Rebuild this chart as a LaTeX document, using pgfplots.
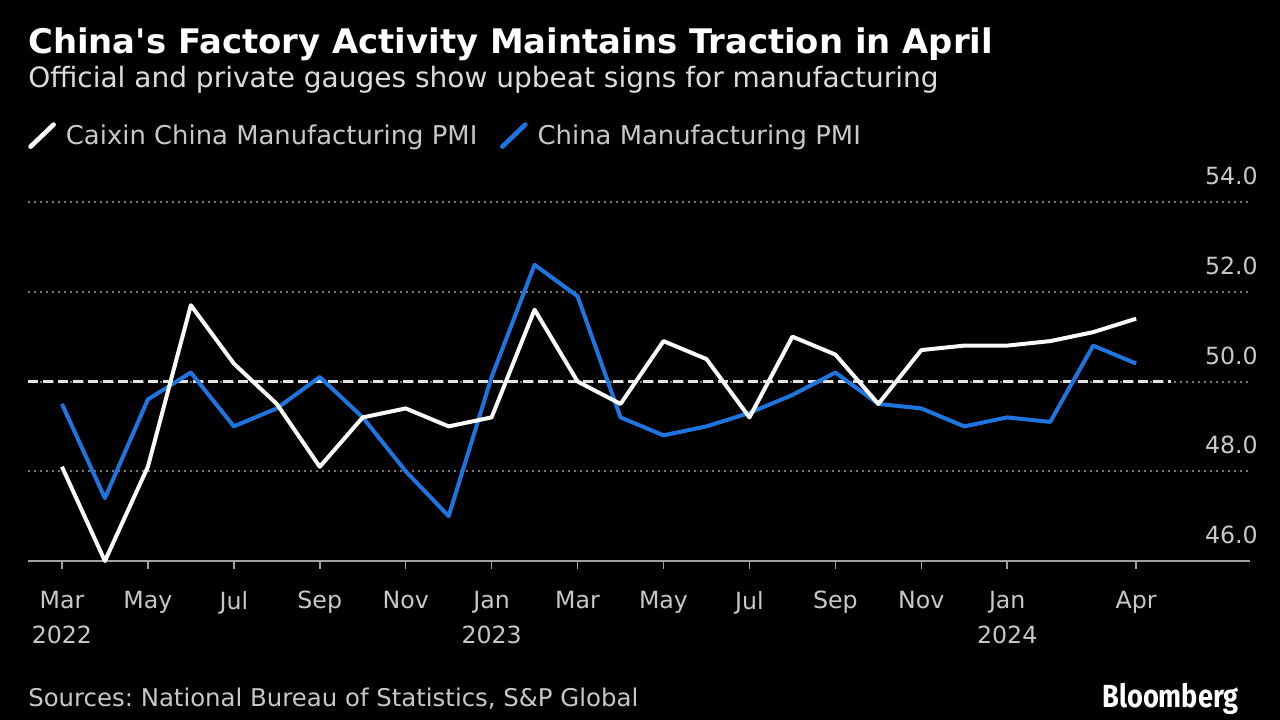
\documentclass[border=0pt]{standalone}
\usepackage{pgfplots}
\pgfplotsset{compat=1.18}
\usepackage{fontspec}
\setmainfont{DejaVu Sans}
\newfontfamily\djv{DejaVu Sans}
\newfontfamily\bbg{Fira Sans}[FakeStretch=0.85]
\definecolor{pmiblue}{RGB}{31,117,224}
\definecolor{linewhite}{RGB}{250,250,250}
\definecolor{gridgray}{RGB}{120,120,120}
\definecolor{axisgray}{RGB}{160,160,160}
\definecolor{ticktext}{RGB}{200,200,200}
\definecolor{subtext}{RGB}{220,220,220}
\definecolor{dashcol}{RGB}{225,225,225}
\frenchspacing
\begin{document}
\begin{tikzpicture}
\useasboundingbox (0,0) rectangle (960pt,540pt);
\fill[black] (0,0) rectangle (960pt,540pt);
\node[anchor=base west, inner sep=0pt, text=white, font=\djv\fontsize{25.4}{30}\selectfont\bfseries] at (21pt,500pt) {China's Factory Activity Maintains Traction in April};
\node[anchor=base west, inner sep=0pt, text=subtext, font=\djv\fontsize{21}{26}\selectfont] at (21pt,474pt) {Official and private gauges show upbeat signs for manufacturing};
\node[anchor=base west, inner sep=0pt, text=ticktext, font=\djv\fontsize{18.3}{22}\selectfont] at (21pt,9.75pt) {Sources: National Bureau of Statistics, S\&P Global};
\node[anchor=base east, inner sep=0pt, text=white, font=\bbg\fontsize{24}{28}\selectfont\bfseries] at (929.25pt,9pt) {Bloomberg};
\begin{axis}[
  at={(21pt,119.25pt)}, anchor=south west,
  scale only axis, width=916.5pt, height=269.25pt,
  xmin=-0.79, xmax=27.65, ymin=46, ymax=54,
  clip=false,
  axis x line*=bottom, axis y line*=right,
  x axis line style={draw=axisgray, line width=1.5pt, -},
  y axis line style={draw=none},
  xtick={0,2,4,6,8,10,12,14,16,18,20,22,25},
  xticklabels={{Mar\\2022},May,Jul,Sep,Nov,{Jan\\2023},Mar,May,Jul,Sep,Nov,{Jan\\2024},Apr},
  xticklabel style={align=center, inner sep=0pt, yshift=-16.5pt, text=ticktext, font=\djv\fontsize{17.75}{26}\selectfont},
  x tick style={draw=axisgray, line width=1.2pt},
  tick align=outside, major tick length=6pt,
  ytick={46,48,50,52,54},
  yticklabels={46.0,48.0,50.0,52.0,54.0},
  y tick style={draw=none},
  yticklabel style={anchor=base east, inner sep=0pt, text=ticktext, font=\djv\fontsize{17.75}{22}\selectfont, yshift=13pt},
  ymajorgrids,
  grid style={draw=gridgray, line width=1.5pt, dash pattern=on 1.5pt off 3pt},
  legend columns=2,
  legend style={at={(0,1.185)}, anchor=west, draw=none, fill=none, text=ticktext,
    font=\djv\fontsize{19.4}{23}\selectfont, inner sep=0pt,
    /tikz/every odd column/.style={column sep=5.5pt},
    /tikz/every even column/.style={column sep=15pt}},
  legend image code/.code={\draw[#1, line width=3.5pt, line cap=round] (0pt,-8.25pt) -- (17.25pt,8.25pt);},
]
\addplot[dashcol, line width=2.25pt, dash pattern=on 7.5pt off 3.75pt, forget plot] coordinates {(-0.79,50) (25.8,50)};
\addlegendimage{linewhite}
\addlegendentry{Caixin China Manufacturing PMI}
\addplot[pmiblue, line width=3pt, line join=round] coordinates {
(0,49.5) (1,47.4) (2,49.6) (3,50.2) (4,49.0) (5,49.4) (6,50.1) (7,49.2) (8,48.0) (9,47.0)
(10,50.1) (11,52.6) (12,51.9) (13,49.2) (14,48.8) (15,49.0) (16,49.3) (17,49.7) (18,50.2) (19,49.5)
(20,49.4) (21,49.0) (22,49.2) (23,49.1) (24,50.8) (25,50.4)};
\addlegendentry{China Manufacturing PMI}
\addplot[linewhite, line width=3pt, line join=round, forget plot] coordinates {
(0,48.1) (1,46.0) (2,48.1) (3,51.7) (4,50.4) (5,49.5) (6,48.1) (7,49.2) (8,49.4) (9,49.0)
(10,49.2) (11,51.6) (12,50.0) (13,49.5) (14,50.9) (15,50.5) (16,49.2) (17,51.0) (18,50.6) (19,49.5)
(20,50.7) (21,50.8) (22,50.8) (23,50.9) (24,51.1) (25,51.4)};
\end{axis}
\end{tikzpicture}
\end{document}
